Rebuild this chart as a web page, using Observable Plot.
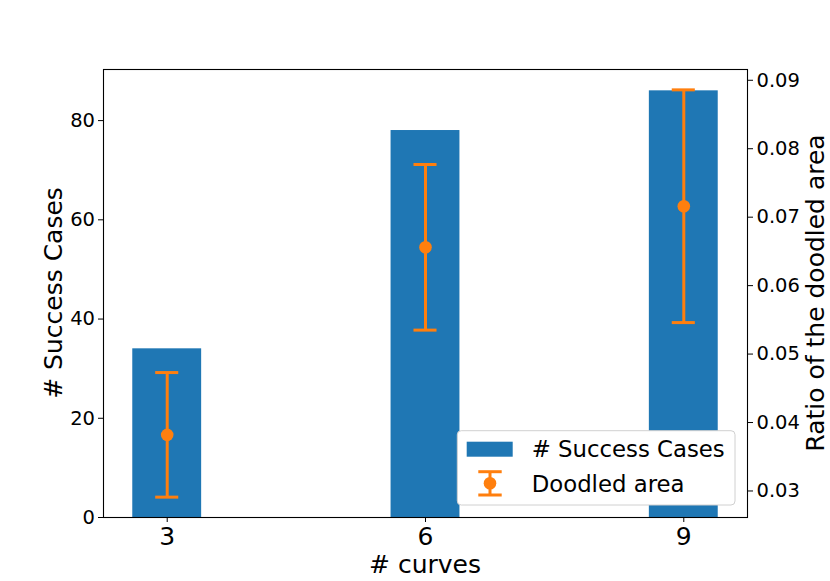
<!DOCTYPE html>
<html><head><meta charset="utf-8">
<script src="https://cdn.jsdelivr.net/npm/d3@7"></script>
<script src="https://cdn.jsdelivr.net/npm/@observablehq/plot@0.6"></script>
<style>body{margin:0;background:#fff} svg{display:block}</style>
</head><body><div id="chart"></div>
<script>
const curves = [3, 6, 9];
const successCases = [34, 78, 86];
const ratioMean = [0.0382, 0.0656, 0.0716];
const ratioStd = [0.0091, 0.0121, 0.0170];
const leftTicks = [0, 20, 40, 60, 80];
const rightTicks = [0.03, 0.04, 0.05, 0.06, 0.07, 0.08, 0.09];
const xTicks = [3, 6, 9];

const blue = "#1f77b4", orange = "#ff7f0e";
const barWidth = 0.8;
const xPad = 0.05 * (d3.max(curves) - d3.min(curves) + barWidth);
const xDomain = [d3.min(curves) - barWidth / 2 - xPad, d3.max(curves) + barWidth / 2 + xPad];
const yMax = d3.max(successCases) * 1.05;
const lows = ratioMean.map((m, i) => m - ratioStd[i]);
const highs = ratioMean.map((m, i) => m + ratioStd[i]);
const rMin = d3.min(lows), rMax = d3.max(highs);
const rLo = rMin - 0.05 * (rMax - rMin), rHi = rMax + 0.05 * (rMax - rMin);
const toLeft = r => (r - rLo) / (rHi - rLo) * yMax;
const fromLeft = v => rLo + v / yMax * (rHi - rLo);

const data = curves.map((c, i) => ({
  x: c, n: successCases[i],
  m: toLeft(ratioMean[i]), lo: toLeft(lows[i]), hi: toLeft(highs[i])
}));
const capHalf = 0.134;

const plot = Plot.plot({
  width: 830, height: 581,
  marginLeft: 103, marginRight: 83, marginTop: 69, marginBottom: 64,
  x: {domain: xDomain},
  y: {domain: [0, yMax]},
  style: {fontFamily: "DejaVu Sans, sans-serif", color: "black", background: "white"},
  marks: [
    Plot.rectY(data, {x1: d => d.x - barWidth / 2, x2: d => d.x + barWidth / 2, y1: () => 0, y2: "n", fill: blue}),
    Plot.ruleX(data, {x: "x", y1: "lo", y2: "hi", stroke: orange, strokeWidth: 3}),
    Plot.ruleY(data, {y: "lo", x1: d => d.x - capHalf, x2: d => d.x + capHalf, stroke: orange, strokeWidth: 3}),
    Plot.ruleY(data, {y: "hi", x1: d => d.x - capHalf, x2: d => d.x + capHalf, stroke: orange, strokeWidth: 3}),
    Plot.dot(data, {x: "x", y: "m", r: 6.3, fill: orange, stroke: null}),
    Plot.frame({stroke: "black", strokeWidth: 1.1}),
    Plot.axisX({ticks: xTicks, tickSize: 5, tickPadding: 4.5, fontSize: 25, label: null, tickFormat: d => String(d)}),
    Plot.axisY({ticks: leftTicks, tickSize: 5, tickPadding: 3.5, fontSize: 19.5, label: null, tickFormat: d => String(d)}),
    Plot.axisY({anchor: "right", ticks: rightTicks.map(toLeft), tickFormat: d => fromLeft(d).toFixed(2),
      tickSize: 5, tickPadding: 4, fontSize: 19.5, label: null})
  ]
});

const svg = d3.select(plot);
svg.append("text").attr("transform", "translate(62,293) rotate(-90)")
  .attr("text-anchor", "middle").attr("font-size", 25).attr("fill", "black").text("# Success Cases");
svg.append("text").attr("transform", "translate(823.5,293) rotate(-90)")
  .attr("text-anchor", "middle").attr("font-size", 25).attr("fill", "black").text("Ratio of the doodled area");
svg.append("text").attr("x", 425).attr("y", 573)
  .attr("text-anchor", "middle").attr("font-size", 25).attr("fill", "black").text("# curves");

const lg = svg.append("g");
lg.append("rect").attr("x", 457.3).attr("y", 430.7).attr("width", 277.7).attr("height", 74.3)
  .attr("rx", 4).attr("fill", "white").attr("stroke", "#d0d0d0").attr("stroke-width", 1);
lg.append("rect").attr("x", 466.7).attr("y", 441.7).attr("width", 46).attr("height", 15).attr("fill", blue);
lg.append("text").attr("x", 531.7).attr("y", 456.5).attr("text-anchor", "start").attr("font-size", 22.8).attr("fill", "black").text("# Success Cases");
lg.append("line").attr("x1", 490).attr("x2", 490).attr("y1", 471.7).attr("y2", 495).attr("stroke", orange).attr("stroke-width", 3);
lg.append("line").attr("x1", 478.3).attr("x2", 501.7).attr("y1", 471.7).attr("y2", 471.7).attr("stroke", orange).attr("stroke-width", 3);
lg.append("line").attr("x1", 478.3).attr("x2", 501.7).attr("y1", 495).attr("y2", 495).attr("stroke", orange).attr("stroke-width", 3);
lg.append("circle").attr("cx", 490).attr("cy", 483.3).attr("r", 6.3).attr("fill", orange);
lg.append("text").attr("x", 531.7).attr("y", 491.5).attr("text-anchor", "start").attr("font-size", 22.8).attr("fill", "black").text("Doodled area");

document.getElementById("chart").appendChild(plot);
</script>
</body></html>
